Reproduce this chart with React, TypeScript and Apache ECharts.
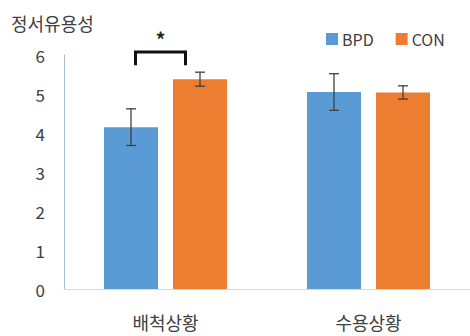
import React, { useEffect, useRef } from "react";
import * as echarts from "echarts";

const categories = ["배척상황", "수용상황"];
const seriesNames = ["BPD", "CON"];
const bpdValues = [4.15, 5.05];
const bpdErrors = [0.47, 0.47];
const conValues = [5.38, 5.04];
const conErrors = [0.18, 0.17];
const yTicks = [0, 1, 2, 3, 4, 5, 6];
const titleText = "정서유용성";
const sigMark = "*";

const FONT = "'Noto Sans CJK KR', 'Noto Sans', sans-serif";
const BAR_W = 54;
const BAR_GAP = 15;
const OFFSET = (BAR_W + BAR_GAP) / 2;

function errorSeries(values: number[], errors: number[], dx: number) {
  return {
    type: "custom",
    silent: true,
    z: 10,
    data: values.map((v, i) => [i, v - errors[i], v + errors[i]]),
    renderItem: (params: any, api: any) => {
      const lo = api.coord([api.value(0), api.value(1)]);
      const hi = api.coord([api.value(0), api.value(2)]);
      const x = lo[0] + dx;
      const cap = 5;
      const style = { stroke: "#404040", lineWidth: 1.3 };
      return {
        type: "group",
        children: [
          { type: "line", shape: { x1: x, y1: lo[1], x2: x, y2: hi[1] }, style },
          { type: "line", shape: { x1: x - cap, y1: lo[1], x2: x + cap, y2: lo[1] }, style },
          { type: "line", shape: { x1: x - cap, y1: hi[1], x2: x + cap, y2: hi[1] }, style },
        ],
      };
    },
  };
}

export default function App() {
  const ref = useRef<HTMLDivElement>(null);
  useEffect(() => {
    if (!ref.current) return;
    const chart = echarts.init(ref.current, undefined, { renderer: "svg" });
    chart.setOption({
      animation: false,
      backgroundColor: "#ffffff",
      textStyle: { fontFamily: FONT },
      title: {
        text: titleText,
        left: 6,
        top: 9,
        textStyle: { fontFamily: FONT, fontSize: 18, fontWeight: "normal", color: "#404040" },
      },
      legend: {
        data: seriesNames,
        left: 326,
        top: 31,
        padding: 0,
        icon: "rect",
        itemWidth: 12,
        itemHeight: 12,
        itemGap: 22,
        textStyle: { fontFamily: FONT, fontSize: 16, color: "#404040", padding: [0, 0, 0, -1] },
      },
      grid: { left: 64, top: 55, height: 234, width: 408 },
      xAxis: {
        type: "category",
        data: categories,
        axisLine: { lineStyle: { color: "#d9d9d9", width: 1 } },
        axisTick: { show: false },
        axisLabel: { fontFamily: FONT, fontSize: 18, color: "#404040", margin: 24 },
      },
      yAxis: {
        type: "value",
        min: yTicks[0],
        max: yTicks[yTicks.length - 1],
        interval: 1,
        splitLine: { show: false },
        axisLine: { show: true, lineStyle: { color: "#a9bcd6", width: 1 } },
        axisTick: { show: false },
        axisLabel: { fontFamily: FONT, fontSize: 17, color: "#404040", margin: 19 },
      },
      series: [
        {
          name: seriesNames[0],
          type: "bar",
          data: bpdValues,
          barWidth: BAR_W,
          barGap: (BAR_GAP / BAR_W) * 100 + "%",
          itemStyle: { color: "#5b9bd5" },
        },
        {
          name: seriesNames[1],
          type: "bar",
          data: conValues,
          barWidth: BAR_W,
          itemStyle: { color: "#ed7d31" },
        },
        errorSeries(bpdValues, bpdErrors, -OFFSET),
        errorSeries(conValues, conErrors, OFFSET),
        {
          type: "custom",
          silent: true,
          clip: false,
          z: 10,
          data: [[0, 5.74, 6.08]],
          renderItem: (params: any, api: any) => {
            const lo = api.coord([api.value(0), api.value(1)]);
            const hi = api.coord([api.value(0), api.value(2)]);
            const x1 = lo[0] - 30;
            const x2 = lo[0] + 20;
            return {
              type: "group",
              children: [
                {
                  type: "polyline",
                  shape: { points: [[x1, lo[1]], [x1, hi[1]], [x2, hi[1]], [x2, lo[1]]] },
                  style: { stroke: "#111111", lineWidth: 3, fill: null, lineJoin: "miter" },
                },
                {
                  type: "text",
                  style: {
                    text: sigMark,
                    x: (x1 + x2) / 2,
                    y: hi[1] - 13,
                    align: "center",
                    verticalAlign: "middle",
                    fontSize: 19,
                    fontWeight: "bold",
                    fontFamily: FONT,
                    fill: "#222222",
                  },
                },
              ],
            };
          },
        },
      ],
    });
    return () => chart.dispose();
  }, []);
  return (
    <div
      ref={ref}
      style={{ position: "fixed", left: 0, top: 0, width: 470, height: 336, background: "#fff" }}
    />
  );
}
